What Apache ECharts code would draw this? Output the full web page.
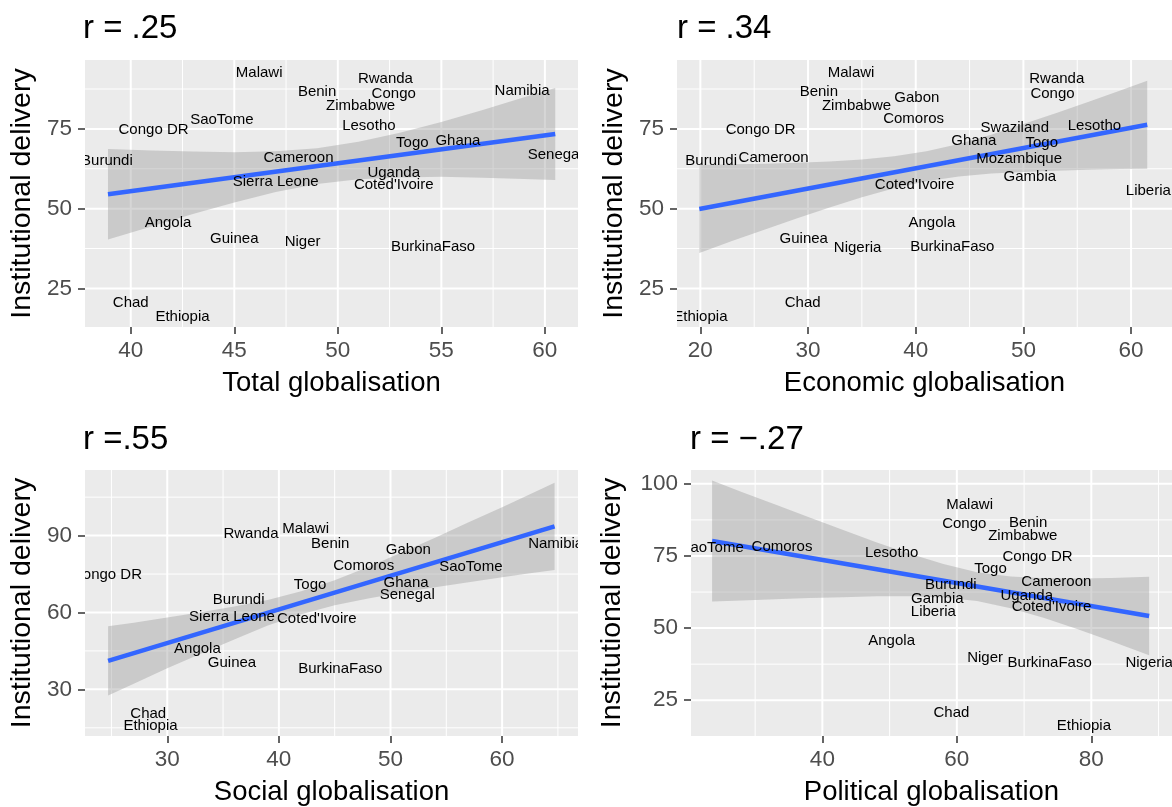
<!DOCTYPE html>
<html><head><meta charset="utf-8">
<script src="https://cdn.jsdelivr.net/npm/echarts@6/dist/echarts.min.js"></script>
<style>html,body{margin:0;padding:0;background:#fff;}#c{width:1172px;height:807px;}</style>
</head><body><div id="c"></div>
<script>
// ---------- DATA ----------
const countries = ["Malawi","Rwanda","Benin","Congo","Namibia","Gabon","Zimbabwe","SaoTome","Comoros","Congo DR",
  "Lesotho","Swaziland","Togo","Ghana","Burundi","Cameroon","Mozambique","Senegal","Uganda","Gambia",
  "Coted'Ivoire","Sierra Leone","Liberia","Angola","Guinea","Niger","Nigeria","BurkinaFaso","Chad","Ethiopia"];
// Institutional delivery (%)
const delivery = [92.7,90.8,86.6,86.0,86.9,84.6,82.1,77.7,78.1,74.7,
  76.1,75.2,70.6,71.4,65.1,65.9,65.5,66.9,61.3,60.0,
  57.5,58.3,55.6,45.7,40.4,39.6,37.8,38.0,20.6,15.95];
const totalGlob = [46.2,52.3,49.0,52.7,58.9,null,51.1,44.4,null,41.1,
  51.5,null,53.6,55.8,38.85,48.1,null,60.5,52.7,null,
  52.7,47.0,null,41.8,45.0,48.3,null,54.6,40.0,42.5];
const economicGlob = [34.0,53.1,31.0,52.7,null,40.1,34.5,null,39.8,25.6,
  56.6,49.2,51.7,45.4,21.0,26.8,49.6,null,null,50.6,
  39.9,null,61.6,41.5,29.6,null,34.6,43.4,29.5,20.0];
const socialGlob = [42.4,37.5,44.6,null,64.8,51.6,null,57.2,47.6,24.6,
  null,null,42.8,51.4,36.4,null,null,51.5,null,null,
  43.4,35.8,null,32.7,35.8,null,null,45.5,28.3,28.5];
const politicalGlob = [61.9,null,70.6,61.1,null,null,69.8,23.6,34.0,72.0,
  50.3,null,65.0,null,59.1,74.8,null,null,70.4,57.1,
  74.1,null,56.5,50.3,null,64.2,88.6,73.8,59.2,78.9];

const titles = ["r = .25","r = .34","r =.55","r = \u2212.27"];
const xNames = ["Total globalisation","Economic globalisation","Social globalisation","Political globalisation"];
const yName = "Institutional delivery";

// fitted line end points
const fitX = [[38.9,60.5],[19.9,61.5],[24.7,64.7],[23.6,88.6]];
const fitY = [[54.5,73.4],[49.9,76.3],[41.1,93.6],[80.2,54.2]];
// confidence band
const bandX = [
  [38.9,41,43,45,47,49,51,53,55,57,59,60.5],
  [19.9,23,26,29,32,35,38,41,44,47,50,53,56,59,61.5],
  [24.7,27,30,33,36,39,42,45,48,51,54,57,60,62.5,64.7],
  [23.6,28,33,38,43,48,53,58,63,68,73,78,83,88.6]];
const bandUp = [
  [68.7,68.2,67.9,67.7,68.0,68.9,71.0,73.8,77.2,80.9,84.9,87.8],
  [63.7,63.9,64.1,64.4,64.8,65.4,66.4,68.0,70.3,73.2,76.5,79.9,83.4,87.0,90.1],
  [54.6,56.0,58.0,60.1,62.3,64.9,68.3,72.6,77.7,83.4,89.2,95.2,101.1,106.1,110.6],
  [101.2,97.2,92.8,88.4,84.1,79.8,75.8,72.2,69.4,67.9,67.3,67.2,67.4,67.8]];
const bandLo = [
  [40.3,44.4,48.3,51.9,55.2,57.7,59.2,59.8,60.0,59.7,59.3,59.0],
  [36.1,39.9,43.5,47.0,50.4,53.6,56.4,58.6,60.1,61.0,61.5,61.9,62.2,62.4,62.5],
  [27.6,32.2,38.2,43.9,49.5,54.9,59.3,62.8,65.5,67.8,69.8,71.8,73.7,75.3,76.6],
  [59.2,59.6,60.0,60.4,60.7,61.0,61.0,60.6,59.4,56.9,53.5,49.6,45.4,40.6]];

// axis ranges and ticks
const xRange = [[37.79,61.6],[17.83,63.8],[22.63,66.8],[20.46,92.0]];
const yRange = [[12.9,96.6],[12.9,96.6],[11.8,115.6],[12.6,104.8]];
const xMajor = [[40,45,50,55,60],[20,30,40,50,60],[30,40,50,60],[40,60,80]];
const xMinor = [[42.5,47.5,52.5,57.5],[25,35,45,55],[25,35,45,55,65],[30,50,70,90]];
const yMajor = [[25,50,75],[25,50,75],[30,60,90],[25,50,75,100]];
const yMinor = [[37.5,62.5,87.5],[37.5,62.5,87.5],[15,45,75,105],[37.5,62.5,87.5]];

// ---------- LAYOUT / STYLE ----------
const FONT = '"Liberation Sans", Arial, Helvetica, sans-serif';
const grids = [
  {left:85, top:60, width:493, height:267},
  {left:677, top:60, width:495, height:267},
  {left:85, top:470, width:493, height:268},
  {left:691, top:470, width:481, height:267}];
const yGaps = [48,48,48,64];
const titlePos = [{left:83,top:12},{left:677,top:12},{left:83,top:423},{left:690,top:423}];

const globs = [totalGlob, economicGlob, socialGlob, politicalGlob];

const option = {
  animation:false,
  backgroundColor:'#fff',
  title: titles.map((t,i)=>({text:t, left:titlePos[i].left, top:titlePos[i].top, padding:0,
    textStyle:{fontSize:33, fontWeight:'normal', color:'#000', fontFamily:FONT}})),
  grid: grids.map(g=>Object.assign({show:true, backgroundColor:'#EBEBEB', borderWidth:0, containLabel:false}, g)),
  xAxis: [], yAxis: [], series: []
};

for (let i=0;i<4;i++){
  option.xAxis.push({type:'value', gridIndex:i, min:xRange[i][0], max:xRange[i][1],
    splitLine:{show:false}, axisLine:{show:false, onZero:false},
    axisTick:{show:true, length:7, customValues:xMajor[i], lineStyle:{color:'#333', width:1.5}},
    axisLabel:{customValues:xMajor[i], fontSize:22.5, color:'#4D4D4D', margin:12, fontFamily:FONT},
    name:xNames[i], nameLocation:'middle', nameGap:42,
    nameTextStyle:{fontSize:27.5, color:'#000', fontFamily:FONT}});
  option.yAxis.push({type:'value', gridIndex:i, min:yRange[i][0], max:yRange[i][1],
    splitLine:{show:false}, axisLine:{show:false, onZero:false},
    axisTick:{show:true, length:7, customValues:yMajor[i], lineStyle:{color:'#333', width:1.5}},
    axisLabel:{customValues:yMajor[i], fontSize:22.5, color:'#4D4D4D', margin:13, fontFamily:FONT},
    name:yName, nameLocation:'middle', nameGap:yGaps[i],
    nameTextStyle:{fontSize:28.5, color:'#000', fontFamily:FONT}});

  // grid lines
  option.series.push({type:'custom', xAxisIndex:i, yAxisIndex:i, z:1, silent:true, clip:true,
    data:[[xRange[i][0], yRange[i][0]]],
    renderItem:(function(k){return function(params, api){
      const ch=[];
      const add=(a,b,w)=>{const p=api.coord(a), q=api.coord(b);
        ch.push({type:'line', shape:{x1:p[0],y1:p[1],x2:q[0],y2:q[1]}, style:{stroke:'#fff', lineWidth:w}});};
      xMinor[k].forEach(v=>add([v,yRange[k][0]],[v,yRange[k][1]],1));
      yMinor[k].forEach(v=>add([xRange[k][0],v],[xRange[k][1],v],1));
      xMajor[k].forEach(v=>add([v,yRange[k][0]],[v,yRange[k][1]],2));
      yMajor[k].forEach(v=>add([xRange[k][0],v],[xRange[k][1],v],2));
      return {type:'group', children:ch};
    };})(i)});

  // confidence band
  option.series.push({type:'custom', xAxisIndex:i, yAxisIndex:i, z:2, silent:true, clip:true,
    data:[[bandX[i][0], bandLo[i][0]]],
    renderItem:(function(k){return function(params, api){
      const pts=[];
      bandX[k].forEach((x,j)=>pts.push(api.coord([x,bandUp[k][j]])));
      for (let j=bandX[k].length-1;j>=0;j--) pts.push(api.coord([bandX[k][j],bandLo[k][j]]));
      return {type:'polygon', shape:{points:pts}, style:{fill:'rgba(153,153,153,0.4)'}};
    };})(i)});

  // fitted line
  option.series.push({type:'line', xAxisIndex:i, yAxisIndex:i, z:3, silent:true, showSymbol:false,
    data:[[fitX[i][0],fitY[i][0]],[fitX[i][1],fitY[i][1]]],
    lineStyle:{color:'#3366FF', width:4.5}});

  // country labels
  const idx=[]; globs[i].forEach((v,j)=>{ if(v!==null) idx.push(j); });
  option.series.push({type:'custom', xAxisIndex:i, yAxisIndex:i, z:4, silent:true, clip:true,
    data: idx.map(j=>[globs[i][j], delivery[j]]),
    renderItem:(function(ids){return function(params, api){
      const p=api.coord([api.value(0), api.value(1)]);
      return {type:'text', x:p[0], y:p[1], style:{text:countries[ids[params.dataIndex]], fill:'#000',
        fontSize:15, fontFamily:FONT, align:'center', verticalAlign:'middle'}};
    };})(idx)});
}

const chart = echarts.init(document.getElementById('c'), null, {renderer:'canvas'});
chart.setOption(option);
</script></body></html>
